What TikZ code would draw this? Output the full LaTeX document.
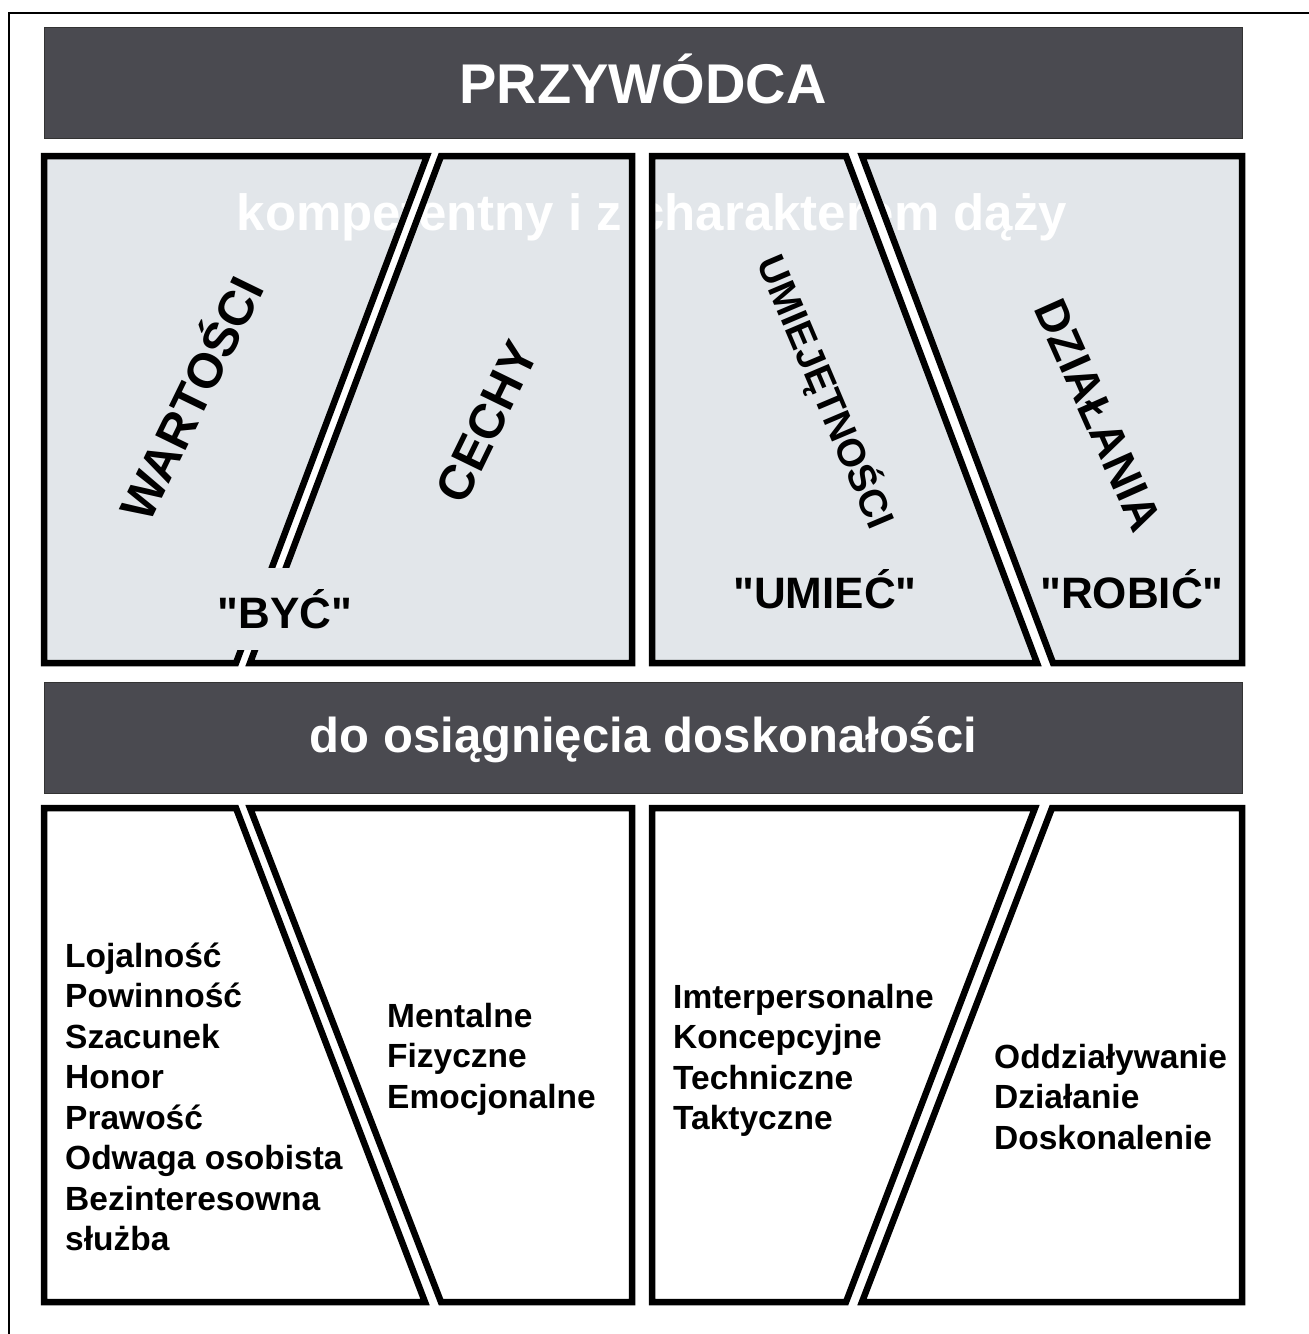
\documentclass[tikz,border=0pt]{standalone}
\usepackage{fontspec}
\setmainfont{Liberation Sans}
\newfontfamily\mottofont{Liberation Sans}
\definecolor{barfill}{RGB}{74,74,80}
\definecolor{panelfill}{RGB}{226,230,234}

\begin{document}
\begin{tikzpicture}[
	x=1pt,
	y=-1pt,
	bar/.style={
		shape=rectangle,
		draw=black!80,
		line width=1pt,
		fill=barfill,
		text=white,
		minimum width=1198pt,
		minimum height=111pt,
		inner sep=0pt,
	},
	panel/.style={
		draw,
		line width=6.5pt,
	},
	heading/.style={
		font=\fontsize{49}{50}\selectfont\bfseries,
		inner sep=0pt,
	},
	motto/.style={
		font=\mottofont\fontsize{44}{46}\selectfont\bfseries,
		inner sep=0pt,
	},
	items/.style={
		font=\fontsize{33.5}{40.5}\selectfont\bfseries,
		align=left,
		inner sep=0pt,
		anchor=base west,
	},
]
% page and outer frame
\fill[white] (0,0) rectangle (1309,1334);
\useasboundingbox (0,0) rectangle (1309,1334);
\draw[line width=1.5pt] (9,1334) -- (9,13) -- (1309,13);

% bars
\node (leader) [bar, font=\fontsize{56}{58}\selectfont\bfseries, text height=40pt, text depth=0pt] at (643,83) {PRZYWÓDCA};
\node (excellence) [bar, font=\fontsize{49}{50}\selectfont\bfseries, text height=29pt, text depth=0pt] at (643.5,737.5) {do osiągnięcia doskonałości};

% upper panels
\fill[panelfill] (44,156) -- (427,156) -- (236,663) -- (44,663) -- cycle;
\fill[panelfill] (441,156) -- (632,156) -- (632,663) -- (250,663) -- cycle;
\fill[panelfill] (652,156) -- (846,156) -- (1037,663) -- (652,663) -- cycle;
\fill[panelfill] (862,156) -- (1242,156) -- (1242,663) -- (1053,663) -- cycle;

\node (aim) [font=\fontsize{51}{52}\selectfont\bfseries, text=white, inner sep=0pt, anchor=base] at (652,230) {kompetentny i z charakterem dąży};

\draw[panel] (44,156) -- (427,156) -- (236,663) -- (44,663) -- cycle;
\draw[panel] (441,156) -- (632,156) -- (632,663) -- (250,663) -- cycle;
\draw[panel] (652,156) -- (846,156) -- (1037,663) -- (652,663) -- cycle;
\draw[panel] (862,156) -- (1242,156) -- (1242,663) -- (1053,663) -- cycle;

% lower panels
\draw[panel] (44,808) -- (236,808) -- (425,1302) -- (44,1302) -- cycle;
\draw[panel] (250,808) -- (632,808) -- (632,1302) -- (441,1302) -- cycle;
\draw[panel] (652,808) -- (1035,808) -- (846,1302) -- (652,1302) -- cycle;
\draw[panel] (1052,808) -- (1242,808) -- (1242,1302) -- (862,1302) -- cycle;

% headings
\node (values) [heading, rotate=64] at (188,397) {WARTOŚCI};
\node (traits) [heading, rotate=64] at (487,422) {CECHY};
\node (skills) [heading, font=\fontsize{39}{40}\selectfont\bfseries, rotate=-67] at (826,392) {UMIEJĘTNOŚCI};
\node (actions) [heading, font=\fontsize{46}{48}\selectfont\bfseries, rotate=-66] at (1098,415) {DZIAŁANIA};

\node (be) [motto, fill=panelfill, minimum height=82pt] at (285,609) {"BYĆ"};
\node (know) [motto, anchor=base] at (825,608) {"UMIEĆ"};
\node (do) [motto, anchor=base] at (1132,608) {"ROBIĆ"};

% lists (anchored at the last line)
\node (valuelist) [items] at (65,1250.5) {Lojalność\\Powinność\\Szacunek\\Honor\\Prawość\\Odwaga osobista\\Bezinteresowna\\służba};
\node (traitlist) [items] at (387,1108) {Mentalne\\Fizyczne\\Emocjonalne};
\node (skilllist) [items] at (673,1129.5) {Imterpersonalne\\Koncepcyjne\\Techniczne\\Taktyczne};
\node (actionlist) [items] at (994,1149) {Oddziaływanie\\Działanie\\Doskonalenie};
\end{tikzpicture}
\end{document}
